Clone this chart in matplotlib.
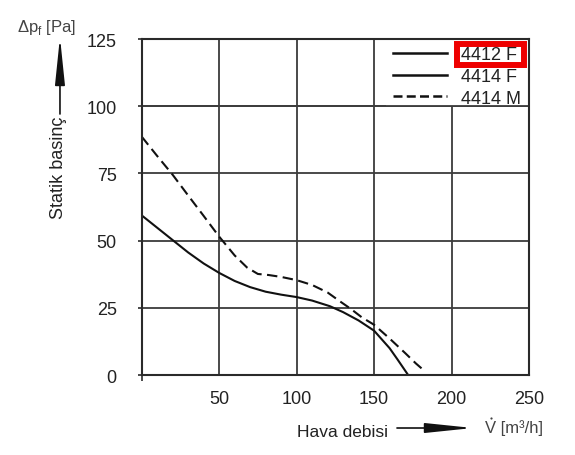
import matplotlib.pyplot as plt
import matplotlib.transforms as mtransforms
from matplotlib.lines import Line2D
from matplotlib.patches import Rectangle

plt.rcParams['font.family'] = ['Liberation Sans', 'DejaVu Sans']

# okunan degerler (hava debisi m3/h, statik basinc Pa)
flow_f = [0, 10, 20, 30, 40, 50, 60, 70, 80, 90, 100, 110, 121.5, 130, 140, 150, 160, 165, 172]
press_f = [59.4, 54.8, 50.2, 45.6, 41.5, 38.0, 35.0, 32.7, 31.0, 29.9, 29.0, 27.7, 25.6,
           23.4, 20.3, 16.5, 10.0, 5.9, 0.0]

flow_m = [0, 10, 20, 30, 40, 50, 60, 68, 75, 82, 90, 100, 110, 120, 128, 135, 142, 150,
          160, 170, 177, 183]
press_m = [88.7, 81.5, 74.5, 66.8, 59.2, 51.5, 44.5, 40.0, 37.6, 37.2, 36.5, 35.3, 33.5,
           30.7, 27.4, 24.6, 21.5, 18.7, 13.6, 8.2, 4.3, 1.3]

x_ticks = [50, 100, 150, 200, 250]
y_ticks = [0, 25, 50, 75, 100, 125]
legend_labels = ['4412 F', '4414 F', '4414 M']

txt_col = '#222222'
grid_col = '#3c3c3c'

fig = plt.figure(figsize=(5.75, 4.56), dpi=100)
ax = fig.add_axes([0.2464, 0.1754, 0.6736, 0.7368])

ax.plot(flow_f, press_f, color='#111111', lw=1.5, solid_capstyle='butt')
ax.plot(flow_m, press_m, color='#111111', lw=1.5, dashes=(5, 2.6))

ax.set_xlim(0, 250)
ax.set_ylim(0, 125)
ax.set_xticks(x_ticks)
ax.set_yticks(y_ticks)
ax.set_xticks([0], minor=True)
ax.grid(True, color=grid_col, lw=1.3)
ax.tick_params(axis='x', length=0, pad=11, labelsize=13, labelcolor=txt_col)
ax.tick_params(axis='x', which='minor', length=4, width=1.3, color=grid_col)
ax.tick_params(axis='y', length=3, width=1.3, color=grid_col, pad=15,
               labelsize=13, labelcolor=txt_col)
for s in ax.spines.values():
    s.set_color('#2a2a2a')
    s.set_linewidth(1.5)

# lejant alani: ustteki izgara hucresini beyaz ile kapat
blend = mtransforms.blended_transform_factory(ax.transAxes, ax.transData)
ax.add_patch(Rectangle((0.63, 100), 0.37, 25, transform=blend, facecolor='white',
                       edgecolor='none', zorder=2.1))
ax.axhline(100, color=grid_col, lw=1.3, zorder=2.3)

handles = [Line2D([], [], color='#111111', lw=1.8),
           Line2D([], [], color='#111111', lw=1.8),
           Line2D([], [], color='#111111', lw=1.8, dashes=(3.6, 1.7))]
leg = ax.legend(handles, legend_labels, loc='upper right', bbox_to_anchor=(0.997, 1.0),
                borderaxespad=0, borderpad=0.4, fontsize=13, handlelength=2.94,
                handletextpad=0.78, labelspacing=0.26, frameon=False)
for t in leg.get_texts():
    t.set_color(txt_col)

# eksen yazilari ve oklar
fig.text(0.1026, 0.7434, 'Statik basinç', rotation=90, ha='center', va='top',
         fontsize=13, color=txt_col)
fig.text(0.03, 1 - 31.7 / 456, 'Δp$_\\mathregular{f}$ [Pa]', ha='left', va='baseline',
         fontsize=12, color='#444444')
ax.annotate('', xy=(0.1043, 0.9167), xytext=(0.1043, 0.7478), xycoords='figure fraction',
            arrowprops=dict(arrowstyle='-|>,head_length=2.9,head_width=0.3', color='#111111',
                            lw=1.2, shrinkA=0, shrinkB=0, mutation_scale=10))

fig.text(0.5948, 1 - 437 / 456, 'Hava debisi', ha='center', va='baseline',
         fontsize=12.5, color=txt_col)
ax.annotate('', xy=(0.8226, 0.0592), xytext=(0.6904, 0.0592), xycoords='figure fraction',
            arrowprops=dict(arrowstyle='-|>,head_length=2.9,head_width=0.3', color='#111111',
                            lw=1.2, shrinkA=0, shrinkB=0, mutation_scale=10))
fig.text(485 / 575, 1 - 433 / 456, 'V [m³/h]', ha='left', va='baseline',
         fontsize=12, color='#444444')
# V harfinin ustundeki nokta (debi isareti)
fig.add_artist(Line2D([490.5 / 575], [1 - 418.5 / 456], marker='o', ms=1.6, mew=0,
                      color='#444444', transform=fig.transFigure))

# 4412 F isaretleme kutusu
fig.canvas.draw()
bb = leg.get_texts()[0].get_window_extent()
inv = fig.transFigure.inverted()
(x0, y0), (x1, y1) = inv.transform([[bb.x0 - 4, bb.y0 - 2], [bb.x1 + 7, bb.y1 + 2]])
fig.add_artist(Rectangle((x0, y0), x1 - x0, y1 - y0, transform=fig.transFigure,
                         fill=False, ec='#ee0000', lw=4.3, zorder=10))

fig.savefig('out.png', dpi=100)
